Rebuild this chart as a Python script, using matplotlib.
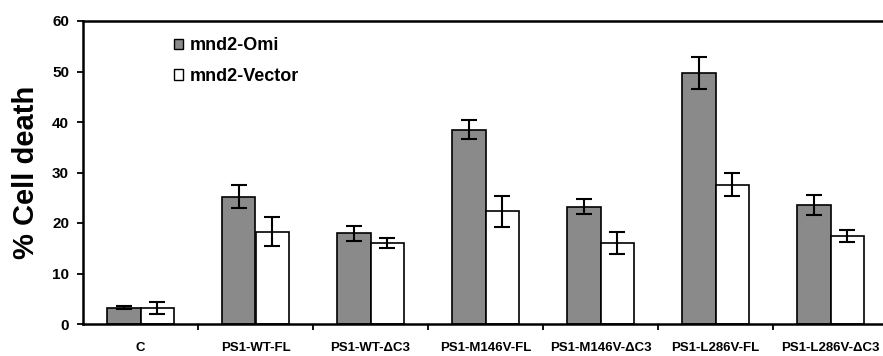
import numpy as np
import matplotlib
matplotlib.use("Agg")
import matplotlib.pyplot as plt
from matplotlib.patches import Patch

categories = ["C", "PS1-WT-FL", "PS1-WT-\u0394C3", "PS1-M146V-FL", "PS1-M146V-\u0394C3",
              "PS1-L286V-FL", "PS1-L286V-\u0394C3"]
omi = [3.2, 25.2, 18.0, 38.5, 23.2, 49.7, 23.5]
omi_err = [0.3, 2.3, 1.5, 1.8, 1.5, 3.1, 2.0]
vector = [3.2, 18.3, 16.0, 22.3, 16.0, 27.6, 17.5]
vector_err = [1.2, 2.8, 1.0, 3.0, 2.2, 2.3, 1.2]
yticks = [0, 10, 20, 30, 40, 50, 60]

plt.rcParams["font.family"] = ["Liberation Sans", "DejaVu Sans"]
plt.rcParams["font.weight"] = "bold"

fig = plt.figure(figsize=(8.83, 3.56), dpi=100)
ax = fig.add_axes([83 / 883, 32 / 356, 805 / 883, 303 / 356])

x = np.arange(len(categories))
w = 0.29
ekw = dict(elinewidth=1.5, capthick=1.5, ecolor="black")
ax.bar(x - w / 2, omi, w, color="#8a8a8a", edgecolor="black", linewidth=1.2,
       yerr=omi_err, capsize=5.5, error_kw=ekw, label="mnd2-Omi")
ax.bar(x + w / 2, vector, w, color="white", edgecolor="black", linewidth=1.2,
       yerr=vector_err, capsize=5.5, error_kw=ekw, label="mnd2-Vector")

ax.set_xlim(-0.5, len(categories) - 0.5)
ax.set_ylim(0, 60)
ax.set_yticks(yticks)
ax.set_yticklabels([str(t) for t in yticks], fontsize=11, fontweight="bold")
ax.set_xticks(x)
ax.set_xticklabels(categories, fontsize=9.5, fontweight="bold")
ax.tick_params(axis="x", length=0, pad=13)
ax.set_xticks(np.arange(len(categories)) + 0.5, minor=True)
ax.tick_params(axis="x", which="minor", length=4, width=1.3, direction="out")
ax.tick_params(axis="y", length=4, width=1.3, direction="out", pad=6)
ax.set_ylabel("% Cell death", fontsize=21, fontweight="bold", labelpad=9)

for s in ["left", "bottom", "top"]:
    ax.spines[s].set_linewidth(1.8)
ax.spines["right"].set_visible(False)

handles = [Patch(facecolor="#8a8a8a", edgecolor="black", label="mnd2-Omi"),
           Patch(facecolor="white", edgecolor="black", label="mnd2-Vector")]
ax.legend(handles=handles, loc="upper left", bbox_to_anchor=(0.093, 1.0), frameon=False,
          prop={"size": 13, "weight": "bold"}, handlelength=0.5, handleheight=0.5,
          handletextpad=0.35, labelspacing=0.75)

fig.savefig("out.png", dpi=100)
